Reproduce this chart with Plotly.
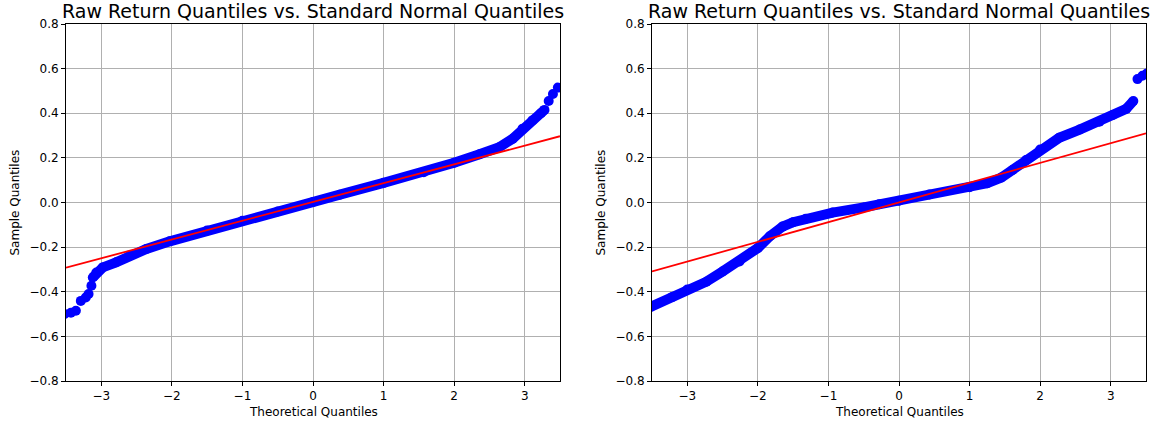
import plotly.graph_objs as go

# values (theoretical quantile, sample quantile)
title_text = 'Raw Return Quantiles vs. Standard Normal Quantiles'

# left panel: dense band of points
left_band_x = [-3.12, -3.07, -2.98, -2.79, -2.60, -2.36, -2.03, -1.50, -1.00, -0.50,
               0.00, 0.38, 1.00, 1.57, 2.00, 2.36, 2.64, 2.83, 2.97, 3.11, 3.23, 3.28]
left_band_y = [-0.336, -0.314, -0.291, -0.268, -0.238, -0.208, -0.174, -0.126, -0.082, -0.040,
               0.002, 0.035, 0.088, 0.136, 0.178, 0.216, 0.248, 0.286, 0.331, 0.368, 0.400, 0.415]
# left panel: separate tail points
left_tail_x = [-3.52, -3.43, -3.36, -3.29, -3.22, -3.18, -3.14, 3.34, 3.40, 3.47]
left_tail_y = [-0.500, -0.494, -0.485, -0.441, -0.426, -0.410, -0.373, 0.455, 0.486, 0.515]
# left panel: reference line
left_line_x = [-3.5, 3.5]
left_line_y = [-0.292, 0.297]

# right panel
right_band_x = [-3.52, -3.21, -3.00, -2.73, -2.50, -2.26, -2.00, -1.83, -1.65, -1.50, -1.32, -0.94, -0.50, -0.28,
                0.00, 0.43, 1.00, 1.25, 1.45, 1.61, 1.80, 2.00, 2.27, 2.56, 2.84, 3.03, 3.22, 3.32]
right_band_y = [-0.468, -0.423, -0.390, -0.355, -0.309, -0.264, -0.204, -0.151, -0.108, -0.088, -0.073, -0.045, -0.022, -0.008,
                0.008, 0.036, 0.068, 0.086, 0.112, 0.146, 0.190, 0.237, 0.290, 0.327, 0.362, 0.392, 0.420, 0.455]
right_tail_x = [3.38, 3.45, 3.51]
right_tail_y = [0.553, 0.568, 0.578]
right_line_x = [-3.5, 3.5]
right_line_y = [-0.309, 0.310]

x_ticks = [-3, -2, -1, 0, 1, 2, 3]
y_ticks = [-0.8, -0.6, -0.4, -0.2, 0.0, 0.2, 0.4, 0.6, 0.8]

W, H = 1157, 426
FONT = 'DejaVu Sans'
BLUE = '#0000ff'
RED = '#ff0000'

# plot boxes in pixels
boxes = [(66, 560), (652, 1146)]
top_px, bottom_px = 24, 381
y_dom = [(H - bottom_px) / H, (H - top_px) / H]

panels = [
    (left_band_x, left_band_y, left_tail_x, left_tail_y, left_line_x, left_line_y),
    (right_band_x, right_band_y, right_tail_x, right_tail_y, right_line_x, right_line_y),
]

traces = []
for i, (bx, by, tx, ty, lx, ly) in enumerate(panels):
    xa = 'x' if i == 0 else 'x2'
    ya = 'y' if i == 0 else 'y2'
    # dense band of sample quantiles
    traces.append(go.Scatter(
        x=bx, y=by, xaxis=xa, yaxis=ya,
        mode='lines+markers',
        line=dict(color=BLUE, width=10),
        marker=dict(color=BLUE, size=10),
        hoverinfo='skip', showlegend=False))
    # sparse tail points
    traces.append(go.Scatter(
        x=tx, y=ty, xaxis=xa, yaxis=ya,
        mode='markers',
        marker=dict(color=BLUE, size=10),
        showlegend=False))
    # fitted line
    traces.append(go.Scatter(
        x=lx, y=ly, xaxis=xa, yaxis=ya,
        mode='lines',
        line=dict(color=RED, width=1.8),
        showlegend=False))

axis_common = dict(
    showline=True, mirror=True, linecolor='black', linewidth=1,
    ticks='outside', ticklen=4, tickcolor='black', tickwidth=1,
    showgrid=True, gridcolor='#b0b0b0', gridwidth=1,
    zeroline=False, automargin=False,
    tickfont=dict(family=FONT, size=12, color='black'),
)

layout = go.Layout(
    width=W, height=H,
    margin=dict(l=0, r=0, t=0, b=0, pad=0, autoexpand=False),
    paper_bgcolor='white', plot_bgcolor='white',
    font=dict(family=FONT, color='black'),
    showlegend=False,
)

fig = go.Figure(data=traces, layout=layout)

annotations = []
for i, (x0, x1) in enumerate(boxes):
    sfx = '' if i == 0 else '2'
    fig.layout['xaxis' + sfx] = dict(
        axis_common, domain=[x0 / W, x1 / W], range=[-3.5, 3.5],
        tickvals=x_ticks, anchor='y' + sfx)
    fig.layout['yaxis' + sfx] = dict(
        axis_common, domain=y_dom, range=[-0.8, 0.8],
        tickvals=y_ticks, tickformat='.1f', anchor='x' + sfx)
    cx = (x0 + x1) / 2 / W
    annotations.append(dict(
        text=title_text, x=cx, y=(H - 11) / H, xref='paper', yref='paper',
        showarrow=False, xanchor='center', yanchor='middle',
        font=dict(family=FONT, size=19, color='black')))
    annotations.append(dict(
        text='Theoretical Quantiles', x=cx, y=(H - 412) / H, xref='paper', yref='paper',
        showarrow=False, xanchor='center', yanchor='middle',
        font=dict(family=FONT, size=12, color='black')))
    annotations.append(dict(
        text='Sample Quantiles', x=(x0 - 52) / W, y=(H - (top_px + bottom_px) / 2) / H,
        xref='paper', yref='paper', textangle=-90,
        showarrow=False, xanchor='center', yanchor='middle',
        font=dict(family=FONT, size=12, color='black')))

fig.update_layout(annotations=annotations)
# drop the page's default body margin so the figure sits at the window's corner
fig.write_html('out.html', config={'displayModeBar': False},
               post_script="document.body.style.margin='0px';")
